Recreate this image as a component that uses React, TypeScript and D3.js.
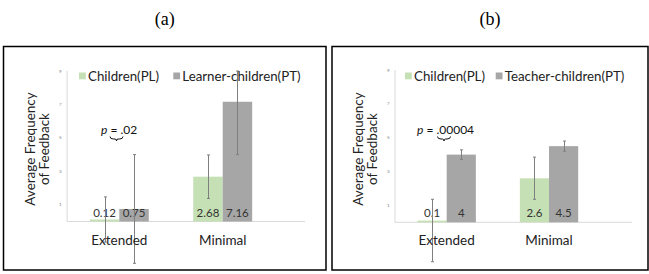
import React, { useRef, useEffect } from 'react';
import * as d3 from 'd3';

const categories = ['Extended', 'Minimal'];
const yTicks = [1, 3, 5, 7, 9];

// panel (a)
const childrenA = [0.12, 2.68];
const learnerA = [0.75, 7.16];
const childrenErrA = [1.35, 1.3];
const learnerErrA = [3.25, 3.16];
const labelsChildrenA = ['0.12', '2.68'];
const labelsLearnerA = ['0.75', '7.16'];

// panel (b)
const childrenB = [0.1, 2.6];
const teacherB = [4, 4.5];
const childrenErrHighB = [1.26, 1.25];
const childrenErrLowB = [2.43, 1.24];
const teacherErrB = [0.28, 0.3];
const labelsChildrenB = ['0.1', '2.6'];
const labelsTeacherB = ['4', '4.5'];

const GREEN = '#c5e0b4';
const GREY = '#a6a6a6';
const FONT = 'Lato, "Open Sans", sans-serif';

type Series = {
  name: string;
  color: string;
  values: number[];
  errHigh: number[];
  errLow: number[];
  labels: string[];
};

type PanelOpts = {
  title: string;
  box: [number, number, number, number];
  x0: number;
  x1: number;
  axisEnd: number;
  yBase: number;
  yTop: number;
  legendX: number[];
  pText: string;
  pX: number;
  braceX: number;
  series: Series[];
};

const panels: PanelOpts[] = [
  {
    title: '(a)',
    box: [3.5, 46.5, 326, 270],
    x0: 67.6,
    x1: 274.4,
    axisEnd: 305,
    yBase: 221.5,
    yTop: 71,
    legendX: [79, 173.3],
    pText: ' = .02',
    pX: 101,
    braceX: 116.5,
    series: [
      { name: 'Children(PL)', color: GREEN, values: childrenA, errHigh: childrenErrA, errLow: childrenErrA, labels: labelsChildrenA },
      { name: 'Learner-children(PT)', color: GREY, values: learnerA, errHigh: learnerErrA, errLow: learnerErrA, labels: labelsLearnerA },
    ],
  },
  {
    title: '(b)',
    box: [332, 46.5, 648, 270],
    x0: 395.5,
    x1: 600.2,
    axisEnd: 632,
    yBase: 222.3,
    yTop: 70,
    legendX: [405, 495.7],
    pText: ' = .00004',
    pX: 417,
    braceX: 444,
    series: [
      { name: 'Children(PL)', color: GREEN, values: childrenB, errHigh: childrenErrHighB, errLow: childrenErrLowB, labels: labelsChildrenB },
      { name: 'Teacher-children(PT)', color: GREY, values: teacherB, errHigh: teacherErrB, errLow: teacherErrB, labels: labelsTeacherB },
    ],
  },
];

function drawPanel(svg: d3.Selection<SVGSVGElement, unknown, null, undefined>, p: PanelOpts) {
  const g = svg.append('g');
  const [bx0, by0, bx1, by1] = p.box;

  g.append('rect')
    .attr('x', bx0).attr('y', by0)
    .attr('width', bx1 - bx0).attr('height', by1 - by0)
    .attr('fill', 'white').attr('stroke', 'black').attr('stroke-width', 1.5);

  g.append('text')
    .attr('x', (bx0 + bx1) / 2).attr('y', 25)
    .attr('text-anchor', 'middle')
    .attr('font-family', '"Liberation Serif", "Times New Roman", serif')
    .attr('font-size', 18)
    .text(p.title);

  const x = d3.scaleBand<string>()
    .domain(categories)
    .range([p.x0, p.x1])
    .paddingInner(0.43)
    .paddingOuter(0.215);
  const xs = d3.scaleBand<number>()
    .domain([0, 1])
    .range([0, x.bandwidth()]);
  const y = d3.scaleLinear().domain([0, 9]).range([p.yBase, p.yTop]);

  // axes
  g.append('line')
    .attr('x1', p.x0 - 0.5).attr('x2', p.x0 - 0.5)
    .attr('y1', y(9)).attr('y2', y(0))
    .attr('stroke', '#d9d9d9');
  g.append('line')
    .attr('x1', p.x0 - 0.5).attr('x2', p.axisEnd)
    .attr('y1', y(0)).attr('y2', y(0))
    .attr('stroke', '#d9d9d9');

  g.append('g')
    .selectAll('text')
    .data(yTicks)
    .join('text')
    .attr('x', p.x0 - 6)
    .attr('y', d => y(d) + 1.5)
    .attr('text-anchor', 'end')
    .attr('font-family', FONT)
    .attr('font-size', 4.5)
    .attr('fill', '#777')
    .text(d => d);

  // bars
  p.series.forEach((s, si) => {
    const sg = g.append('g');
    sg.selectAll('rect')
      .data(s.values)
      .join('rect')
      .attr('x', (d, i) => x(categories[i])! + xs(si)!)
      .attr('y', d => y(d))
      .attr('width', xs.bandwidth())
      .attr('height', d => y(0) - y(d))
      .attr('fill', s.color);
  });

  // labels
  p.series.forEach((s, si) => {
    g.append('g')
      .selectAll('text')
      .data(s.labels)
      .join('text')
      .attr('x', (d, i) => x(categories[i])! + xs(si)! + xs.bandwidth() / 2)
      .attr('y', y(0) - 5)
      .attr('text-anchor', 'middle')
      .attr('font-family', FONT)
      .attr('font-size', 11.5)
      .attr('fill', '#333')
      .text(d => d);
  });

  // error bars
  p.series.forEach((s, si) => {
    const eg = g.append('g').attr('stroke', '#7f7f7f').attr('stroke-width', 1);
    s.values.forEach((v, i) => {
      const cx = Math.round(x(categories[i])! + xs(si)! + xs.bandwidth() / 2) + 0.5;
      const hi = y(Math.min(9, v + s.errHigh[i]));
      const lo = y(v - s.errLow[i]);
      eg.append('line').attr('x1', cx).attr('x2', cx).attr('y1', hi).attr('y2', lo);
      eg.append('line').attr('x1', cx - 1.5).attr('x2', cx + 1.5).attr('y1', hi).attr('y2', hi);
      eg.append('line').attr('x1', cx - 1.5).attr('x2', cx + 1.5).attr('y1', lo).attr('y2', lo);
    });
  });

  // x labels
  g.append('g')
    .selectAll('text')
    .data(categories)
    .join('text')
    .attr('x', d => x(d)! + x.bandwidth() / 2)
    .attr('y', y(0) + 23)
    .attr('text-anchor', 'middle')
    .attr('font-family', FONT)
    .attr('font-size', 13.5)
    .attr('fill', '#222')
    .text(d => d);

  // y title
  const ty = g.append('text')
    .attr('transform', `translate(${bx0 + 31},149) rotate(-90)`)
    .attr('text-anchor', 'middle')
    .attr('font-family', FONT)
    .attr('font-size', 13.5)
    .attr('fill', '#222');
  ty.append('tspan').attr('x', 0).attr('dy', 0).text('Average Frequency');
  ty.append('tspan').attr('x', 0).attr('dy', 14).text('of Feedback');

  // legend
  p.series.forEach((s, si) => {
    const lx = p.legendX[si];
    g.append('rect')
      .attr('x', lx).attr('y', 72.5)
      .attr('width', 6.8).attr('height', 6.8)
      .attr('fill', s.color);
    g.append('text')
      .attr('x', lx + 9).attr('y', 80.5)
      .attr('font-family', FONT)
      .attr('font-size', 13.3)
      .attr('fill', '#222')
      .text(s.name);
  });

  // p value and brace
  const pt = g.append('text')
    .attr('x', p.pX).attr('y', 134)
    .attr('font-family', FONT)
    .attr('font-size', 12)
    .attr('fill', '#111');
  pt.append('tspan').attr('font-style', 'italic').text('p');
  pt.append('tspan').text(p.pText);

  const b = p.braceX;
  const w = 6.5;
  const by = 136.5;
  g.append('path')
    .attr('d', `M${b - w},${by} Q${b - w},${by + 2.5} ${b - 3},${by + 2.5} L${b - 1.5},${by + 2.5} Q${b},${by + 2.5} ${b},${by + 4.5} Q${b},${by + 2.5} ${b + 1.5},${by + 2.5} L${b + 3},${by + 2.5} Q${b + w},${by + 2.5} ${b + w},${by}`)
    .attr('fill', 'none')
    .attr('stroke', '#111')
    .attr('stroke-width', 1);
}

const App = () => {
  const svgRef = useRef<SVGSVGElement>(null);

  useEffect(() => {
    const svg = d3.select(svgRef.current!);
    svg.selectAll('*').remove();
    panels.forEach(p => drawPanel(svg, p));
  }, []);

  return (
    <svg
      ref={svgRef}
      width={649}
      height={274}
      style={{ position: 'absolute', left: 0, top: 0, background: 'white' }}
    />
  );
};

export default App;
